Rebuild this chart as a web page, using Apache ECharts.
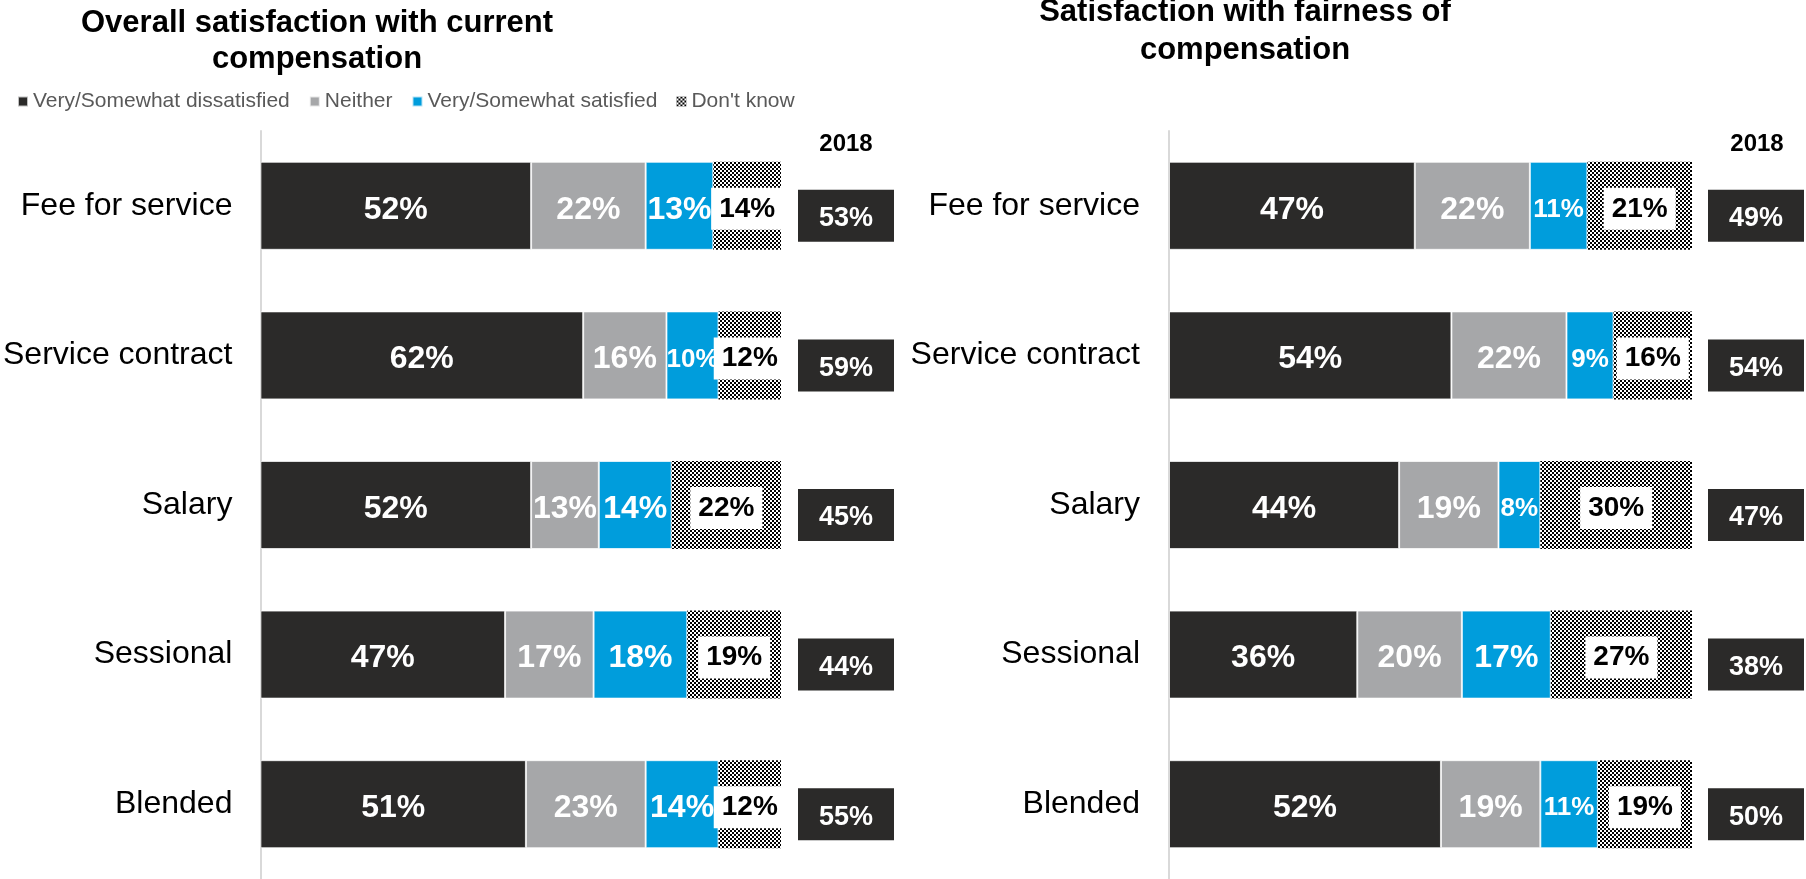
<!DOCTYPE html>
<html>
<head>
<meta charset="utf-8">
<title>Satisfaction with compensation by payment model</title>
<script src="https://cdn.jsdelivr.net/npm/echarts@6/dist/echarts.min.js"></script>
<style>
  html, body { margin: 0; padding: 0; background: #ffffff; }
  #chart { width: 1806px; height: 879px; }
</style>
</head>
<body>
<div id="chart"></div>
<script>
// Payment models (rows)
const categories = ['Fee for service', 'Service contract', 'Salary', 'Sessional', 'Blended'];
const seriesNames = ['Very/Somewhat dissatisfied', 'Neither', 'Very/Somewhat satisfied', "Don't know"];

// Overall satisfaction with current compensation (%)
const overallDissatisfied = [52, 62, 52, 47, 51];
const overallNeither      = [22, 16, 13, 17, 23];
const overallSatisfied    = [13, 10, 14, 18, 14];
const overallDontKnow     = [14, 12, 22, 19, 12];
const overall2018         = [53, 59, 45, 44, 55];

// Satisfaction with fairness of compensation (%)
const fairDissatisfied = [47, 54, 44, 36, 52];
const fairNeither      = [22, 22, 19, 20, 19];
const fairSatisfied    = [11, 9, 8, 17, 11];
const fairDontKnow     = [21, 16, 30, 27, 19];
const fair2018         = [49, 54, 47, 38, 50];

const yearLabel = '2018';

const COLORS = { dark: '#2b2a29', grey: '#a6a7a9', blue: '#009ddc' };
const FONT = 'Liberation Sans, Arial, Helvetica, sans-serif';

// fine black/white checkerboard used for "Don't know"
function checkerPattern() {
  const c = document.createElement('canvas');
  c.width = 4; c.height = 4;
  const g = c.getContext('2d');
  g.fillStyle = '#ffffff'; g.fillRect(0, 0, 4, 4);
  g.fillStyle = '#000000';
  g.fillRect(0, 0, 2, 2); g.fillRect(2, 2, 2, 2);
  return { image: c, repeat: 'repeat' };
}
const checker = checkerPattern();

// narrow segments get a slightly smaller label
function segmentData(values) {
  return values.map(v => ({
    value: v,
    label: { fontSize: v <= 11 ? 26 : 32 }
  }));
}

function stackSeries(idx, values) {
  const fills = [COLORS.dark, COLORS.grey, COLORS.blue, checker];
  return values.map((vals, k) => {
    const isDK = k === 3;
    return {
      name: seriesNames[k],
      type: 'bar',
      stack: 'total' + idx,
      xAxisIndex: idx,
      yAxisIndex: idx,
      barWidth: 88,
      data: isDK ? vals.slice() : segmentData(vals),
      itemStyle: {
        color: fills[k],
        borderColor: isDK ? 'transparent' : 'rgba(255,255,255,0.7)',
        borderWidth: isDK ? 0 : 1
      },
      label: isDK ? {
        show: true,
        position: 'inside',
        offset: [0, 3],
        formatter: '{c}%',
        color: '#000000',
        fontFamily: FONT,
        fontWeight: 'bold',
        fontSize: 28,
        backgroundColor: '#ffffff',
        padding: [8, 8, 6, 8]
      } : {
        show: true,
        position: 'inside',
        offset: [0, 4],
        formatter: '{c}%',
        color: '#ffffff',
        fontFamily: FONT,
        fontWeight: 'bold',
        fontSize: 32
      },
      emphasis: { disabled: true }
    };
  });
}

function yearSeries(idx, values) {
  return {
    name: yearLabel,
    type: 'scatter',
    xAxisIndex: idx,
    yAxisIndex: idx,
    symbol: 'rect',
    symbolSize: [96, 52],
    symbolOffset: [0, 10],
    data: values.map((v, i) => [0, i, v]),
    itemStyle: { color: COLORS.dark, opacity: 1 },
    label: {
      show: true,
      position: 'inside',
      offset: [0, 3],
      formatter: p => p.value[2] + '%',
      color: '#ffffff',
      fontFamily: FONT,
      fontWeight: 'bold',
      fontSize: 27
    },
    emphasis: { disabled: true }
  };
}

const GRID_TOP = 131, GRID_H = 750;
const grids = [
  { left: 253, top: GRID_TOP, width: 528, height: GRID_H },
  { left: 1169, top: GRID_TOP, width: 523, height: GRID_H },
  { left: 798, top: GRID_TOP, width: 96, height: GRID_H },
  { left: 1708, top: GRID_TOP, width: 96, height: GRID_H }
];

const xAxes = [
  { gridIndex: 0, type: 'value', min: 0, max: 100, show: false },
  { gridIndex: 1, type: 'value', min: 0, max: 100, show: false },
  { gridIndex: 2, type: 'value', min: -1, max: 1, show: false },
  { gridIndex: 3, type: 'value', min: -1, max: 1, show: false }
];

function catAxis(gi, visible, margin) {
  return {
    gridIndex: gi,
    type: 'category',
    data: categories,
    inverse: true,
    show: visible,
    axisLine: { show: true, lineStyle: { color: '#d9d9d9', width: 2 } },
    axisTick: { show: false },
    splitLine: { show: false },
    axisLabel: {
      show: true,
      margin: margin,
      color: '#000000',
      fontFamily: FONT,
      fontSize: 32,
      padding: [6, 0, 0, 0]
    }
  };
}
const yAxes = [catAxis(0, true, 28), catAxis(1, true, 29), catAxis(2, false, 0), catAxis(3, false, 0)];

const option = {
  animation: false,
  backgroundColor: '#ffffff',
  grid: grids,
  xAxis: xAxes,
  yAxis: yAxes,
  legend: {
    data: seriesNames,
    left: 12,
    top: 86,
    itemWidth: 10,
    itemHeight: 10,
    itemGap: 19,
    icon: 'rect',
    selectedMode: false,
    textStyle: { color: '#595959', fontFamily: FONT, fontSize: 21 }
  },
  graphic: [
    {
      type: 'text', x: 317, y: 5,
      style: {
        text: 'Overall satisfaction with current\ncompensation',
        fill: '#000000', font: 'bold 31px ' + FONT,
        textAlign: 'center', textVerticalAlign: 'top', lineHeight: 36
      }
    },
    {
      type: 'text', x: 1245, y: -7,
      style: {
        text: 'Satisfaction with fairness of\ncompensation',
        fill: '#000000', font: 'bold 31px ' + FONT,
        textAlign: 'center', textVerticalAlign: 'top', lineHeight: 38
      }
    },
    {
      type: 'text', x: 846, y: 144,
      style: { text: yearLabel, fill: '#000000', font: 'bold 24px ' + FONT, textAlign: 'center', textVerticalAlign: 'middle' }
    },
    {
      type: 'text', x: 1757, y: 144,
      style: { text: yearLabel, fill: '#000000', font: 'bold 24px ' + FONT, textAlign: 'center', textVerticalAlign: 'middle' }
    }
  ],
  series: [
    ...stackSeries(0, [overallDissatisfied, overallNeither, overallSatisfied, overallDontKnow]),
    ...stackSeries(1, [fairDissatisfied, fairNeither, fairSatisfied, fairDontKnow]),
    yearSeries(2, overall2018),
    yearSeries(3, fair2018)
  ]
};

const chart = echarts.init(document.getElementById('chart'), null, { renderer: 'canvas' });
chart.setOption(option);
</script>
</body>
</html>
